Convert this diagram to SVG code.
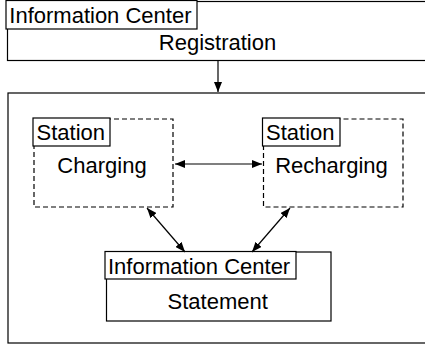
<svg xmlns="http://www.w3.org/2000/svg" width="425" height="347" viewBox="0 0 425 347">
<defs>
<marker id="ah" viewBox="0 0 10 8" refX="10" refY="4" markerWidth="10" markerHeight="8" markerUnits="userSpaceOnUse" orient="auto-start-reverse">
<path d="M0,0 L10,4 L0,8 Z" fill="#000"/>
</marker>
<style>
.box{fill:#fff;stroke:#000;stroke-width:1.2}
.dash{fill:none;stroke:#000;stroke-width:1.2;stroke-dasharray:5,3}
.lbl{fill:#fff;stroke:#000;stroke-width:1.2}
text{font-family:"Liberation Sans",Arial,sans-serif;font-size:22px;fill:#000}
.c{text-anchor:middle}
.con{stroke:#000;stroke-width:1.2;fill:none}
</style>
</defs>
<rect width="425" height="347" fill="#fff"/>
<g id="registration">
<rect class="box" x="7.5" y="1.5" width="430" height="59"/>
<rect class="lbl" x="6" y="0.5" width="191" height="28.5"/>
<text x="9.3" y="23">Information Center</text>
<text class="c" x="217.5" y="50">Registration</text>
</g>
<g id="container">
<rect class="box" x="8" y="93" width="430" height="250"/>
</g>
<g id="charging">
<rect class="dash" x="34" y="119" width="139" height="88"/>
<rect class="lbl" x="33" y="118" width="77" height="28"/>
<text x="36.5" y="139.5">Station</text>
<text class="c" x="102" y="172.7">Charging</text>
</g>
<g id="recharging">
<rect class="dash" x="263.5" y="119" width="139.5" height="88"/>
<rect class="lbl" x="262.5" y="118" width="77.5" height="28"/>
<text x="266" y="139.5">Station</text>
<text class="c" x="331.5" y="172.7">Recharging</text>
</g>
<g id="statement">
<rect class="box" x="106.5" y="252" width="224.5" height="69"/>
<rect class="lbl" x="105" y="251.5" width="191" height="27.5"/>
<text x="108" y="274.3">Information Center</text>
<text class="c" x="217.7" y="309.3">Statement</text>
</g>
<g id="connectors">
<line class="con" x1="218" y1="61" x2="218" y2="92" marker-end="url(#ah)"/>
<line class="con" x1="175" y1="164" x2="262" y2="164" marker-start="url(#ah)" marker-end="url(#ah)"/>
<line class="con" x1="147" y1="208" x2="185" y2="252" marker-start="url(#ah)" marker-end="url(#ah)"/>
<line class="con" x1="290" y1="208" x2="252" y2="252" marker-start="url(#ah)" marker-end="url(#ah)"/>
</g>
</svg>
